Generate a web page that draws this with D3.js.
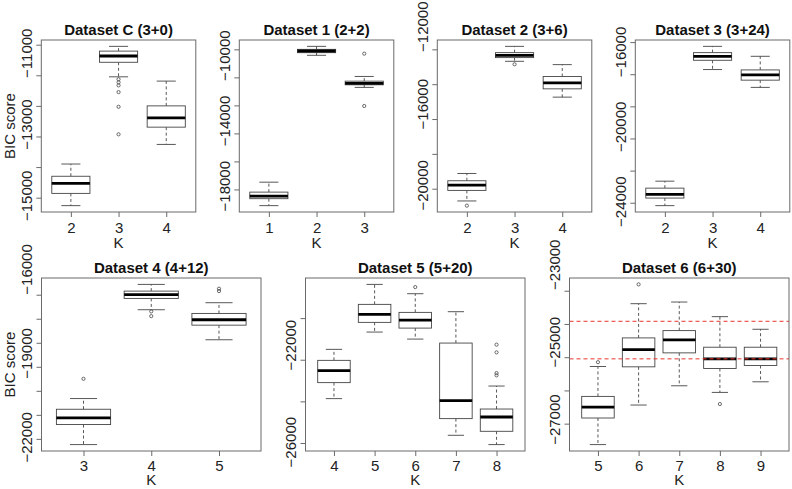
<!DOCTYPE html>
<html><head><meta charset="utf-8">
<script src="https://cdn.jsdelivr.net/npm/d3@7"></script>
<style>
body{margin:0;background:#fff}
svg{display:block}
text{font-family:"Liberation Sans",Arial,Helvetica,sans-serif}
</style>
</head><body>
<svg id="chart" width="792" height="489"></svg>
<script>
// ---------- data ----------
const titles = ["Dataset C (3+0)", "Dataset 1 (2+2)", "Dataset 2 (3+6)", "Dataset 3 (3+24)",
                "Dataset 4 (4+12)", "Dataset 5 (5+20)", "Dataset 6 (6+30)"];
const xLabel = "K";
const yLabel = "BIC score";

// stats per K: [lower whisker, Q1, median, Q3, upper whisker]
const kC = [2, 3, 4];
const statsC = [[-15260, -14860, -14530, -14300, -13900],
                [-11050, -10575, -10370, -10210, -10055],
                [-13260, -12695, -12390, -12000, -11190]];
const outC = [[], [-11130, -11230, -11330, -11550, -12030, -12930], []];
const ticksC = [-15000, -14000, -13000, -12000, -11000, -10000];
const labelsC = [-15000, -13000, -11000];

const k1 = [1, 2, 3];
const stats1 = [[-19156, -18660, -18475, -18191, -17482],
                [-8426, -8236, -8118, -8000, -7787],
                [-10716, -10530, -10433, -10270, -9936]];
const out1 = [[], [], [-8307, -12043]];
const ticks1 = [-18000, -16000, -14000, -12000, -10000, -8000];
const labels1 = [-18000, -14000, -10000];

const k2 = [2, 3, 4];
const stats2 = [[-20703, -20097, -19789, -19543, -19126],
                [-12686, -12474, -12343, -12189, -11829],
                [-14743, -14267, -13924, -13560, -12876]];
const out2 = [[-20971], [-12857], []];
const ticks2 = [-20000, -18000, -16000, -14000, -12000];
const labels2 = [-20000, -16000, -12000];

const k3 = [2, 3, 4];
const stats3 = [[-24180, -23709, -23481, -23091, -22658],
                [-15708, -15132, -14884, -14656, -14266],
                [-16820, -16369, -16041, -15732, -14884]];
const out3 = [[], [], []];
const ticks3 = [-24000, -22000, -20000, -18000, -16000, -14000];
const labels3 = [-24000, -20000, -16000];

const k4 = [3, 4, 5];
const stats4 = [[-22238, -21404, -21125, -20767, -20321],
                [-16625, -16154, -16000, -15850, -15571],
                [-17875, -17267, -17042, -16779, -16333]];
const out4 = [[-19500], [-16696, -16892], [-15750, -15850]];
const ticks4 = [-22000, -21000, -20000, -19000, -18000, -17000, -16000];
const labels4 = [-22000, -19000, -16000];

const k5 = [4, 5, 6, 7, 8];
const stats5 = [[-23868, -23100, -22524, -22030, -21502],
                [-20671, -20205, -19820, -19340, -18381],
                [-21008, -20480, -20095, -19725, -18828],
                [-25630, -24829, -23965, -21199, -19692],
                [-26077, -25438, -24752, -24368, -23264]];
const out5 = [[], [], [-18510], [], [-21276, -21646, -22640, -22750]];
const ticks5 = [-26000, -24000, -22000, -20000];
const labels5 = [-26000, -22000];

const k6 = [5, 6, 7, 8, 9];
const stats6 = [[-27630, -26830, -26500, -26180, -25280],
                [-26440, -25290, -24770, -24420, -23390],
                [-25860, -24870, -24480, -24200, -23340],
                [-26060, -25340, -25050, -24700, -23780],
                [-25740, -25250, -25050, -24700, -24160]];
const out6 = [[-25150], [-22810], [], [-26410], []];
const ticks6 = [-27000, -26000, -25000, -24000, -23000];
const labels6 = [-27000, -25000, -23000];
const refLines6 = [-23920, -25050];

// ---------- drawing ----------
const panels = [
  {title: titles[0], k: kC, stats: statsC, out: outC, ticks: ticksC, labels: labelsC, ylab: true},
  {title: titles[1], k: k1, stats: stats1, out: out1, ticks: ticks1, labels: labels1},
  {title: titles[2], k: k2, stats: stats2, out: out2, ticks: ticks2, labels: labels2},
  {title: titles[3], k: k3, stats: stats3, out: out3, ticks: ticks3, labels: labels3},
  {title: titles[4], k: k4, stats: stats4, out: out4, ticks: ticks4, labels: labels4, ylab: true},
  {title: titles[5], k: k5, stats: stats5, out: out5, ticks: ticks5, labels: labels5},
  {title: titles[6], k: k6, stats: stats6, out: out6, ticks: ticks6, labels: labels6, refs: refLines6}
];

const svg = d3.select("#chart");
const fmt = d3.format("d");
const FS = 15;
const LINE = "#454545";
const FRAME = "#6a6a6a";
const LABEL_SPREAD = 0.165; // the reference's y tick labels sit spread upward from the axis bottom

function frameFor(i) {
  if (i < 4) return {x0: 41.3 + 198 * i, w: 154.5, y0: 40, h: 172};
  const j = i - 4;
  return {x0: 41.5 + 264 * j, w: 219.5, y0: 278, h: 173};
}

panels.forEach((p, i) => {
  const f = frameFor(i);
  const g = svg.append("g");
  const all = p.stats.flat().concat(p.out.flat());
  const [mn, mx] = d3.extent(all);
  const pad = (mx - mn) * 0.04;
  const y = d3.scaleLinear().domain([mn - pad, mx + pad]).range([f.y0 + f.h, f.y0]);
  const n = p.k.length;
  const x = d3.scaleLinear().domain([0.5 - 0.04 * n, n + 0.5 + 0.04 * n]).range([f.x0, f.x0 + f.w]);
  const bottom = f.y0 + f.h;

  // boxes
  p.stats.forEach((s, j) => {
    const c = j + 1;
    const [lw, q1, med, q3, uw] = s;
    const bx0 = x(c - 0.4), bx1 = x(c + 0.4);
    const sx0 = x(c - 0.2), sx1 = x(c + 0.2);
    g.append("line").attr("x1", x(c)).attr("x2", x(c)).attr("y1", y(q3)).attr("y2", y(uw))
      .attr("stroke", LINE).attr("stroke-width", 0.9).attr("stroke-dasharray", "3,2.5");
    g.append("line").attr("x1", x(c)).attr("x2", x(c)).attr("y1", y(q1)).attr("y2", y(lw))
      .attr("stroke", LINE).attr("stroke-width", 0.9).attr("stroke-dasharray", "3,2.5");
    [lw, uw].forEach(v => g.append("line").attr("x1", sx0).attr("x2", sx1).attr("y1", y(v)).attr("y2", y(v))
      .attr("stroke", LINE).attr("stroke-width", 0.9));
    g.append("rect").attr("x", bx0).attr("y", y(q3)).attr("width", bx1 - bx0).attr("height", y(q1) - y(q3))
      .attr("fill", "#fff").attr("stroke", LINE).attr("stroke-width", 0.9);
    g.append("line").attr("x1", bx0).attr("x2", bx1).attr("y1", y(med)).attr("y2", y(med))
      .attr("stroke", "#000").attr("stroke-width", 2.8);
    p.out[j].forEach(v => g.append("circle").attr("cx", x(c)).attr("cy", y(v)).attr("r", 1.6)
      .attr("fill", "none").attr("stroke", LINE).attr("stroke-width", 0.8));
  });

  // reference lines
  if (p.refs) p.refs.forEach(v => g.append("line").attr("x1", f.x0).attr("x2", f.x0 + f.w)
      .attr("y1", y(v)).attr("y2", y(v)).attr("stroke", "#e8352d").attr("stroke-width", 1)
      .attr("stroke-dasharray", "4,3"));

  // frame
  g.append("rect").attr("x", f.x0).attr("y", f.y0).attr("width", f.w).attr("height", f.h)
    .attr("fill", "none").attr("stroke", FRAME).attr("stroke-width", 1);

  // y axis
  const ya = g.append("g").attr("transform", `translate(${f.x0},0)`)
    .call(d3.axisLeft(y).tickValues(p.ticks).tickSize(5)
      .tickFormat(d => p.labels.includes(d) ? fmt(d) : ""));
  ya.select(".domain").remove();
  ya.selectAll(".tick line").attr("stroke", FRAME);
  ya.selectAll(".tick text").attr("transform", "rotate(-90)")
    .attr("x", function(d) {
      // spread upward, but keep the label inside the picture
      const half = this.getComputedTextLength ? 0 : 0;
      const shift = (bottom - y(d)) * LABEL_SPREAD;
      const len = this.getComputedTextLength();
      const maxShift = y(d) - len / 2 - 1;
      return Math.min(shift, maxShift);
    })
    .attr("y", -9.5)
    .attr("dy", 0).attr("text-anchor", "middle").attr("font-size", FS)
    .attr("font-family", '"Liberation Sans", Arial, sans-serif').attr("fill", "#222");
  // recompute after font-size applied
  ya.selectAll(".tick text").attr("x", function(d) {
    const shift = (bottom - y(d)) * LABEL_SPREAD;
    const len = this.getComputedTextLength();
    return Math.min(shift, y(d) - len / 2 - 1);
  });

  // x axis
  const xa = g.append("g").attr("transform", `translate(0,${bottom})`)
    .call(d3.axisBottom(x).tickValues(d3.range(1, n + 1)).tickSize(5)
      .tickFormat(c => p.k[c - 1]));
  xa.select(".domain").remove();
  xa.selectAll(".tick line").attr("stroke", FRAME);
  xa.selectAll(".tick text").attr("y", i < 4 ? 21 : 20.3).attr("dy", 0).attr("font-size", FS)
    .attr("font-family", '"Liberation Sans", Arial, sans-serif').attr("fill", "#222");

  // x label
  g.append("text").attr("x", f.x0 + f.w / 2).attr("y", bottom + (i < 4 ? 36 : 34))
    .attr("text-anchor", "middle").attr("font-size", FS).attr("fill", "#222").text(xLabel);

  // title
  g.append("text").attr("x", f.x0 + f.w / 2).attr("y", f.y0 - 5.5)
    .attr("text-anchor", "middle").attr("font-size", 15).attr("font-weight", "bold")
    .attr("fill", "#111").text(p.title);

  // y label
  if (p.ylab) {
    const cy = f.y0 + f.h / 2;
    g.append("text").attr("transform", `translate(15,${cy}) rotate(-90)`)
      .attr("text-anchor", "middle").attr("font-size", FS).attr("fill", "#222").text(yLabel);
  }
});
</script>
</body></html>
